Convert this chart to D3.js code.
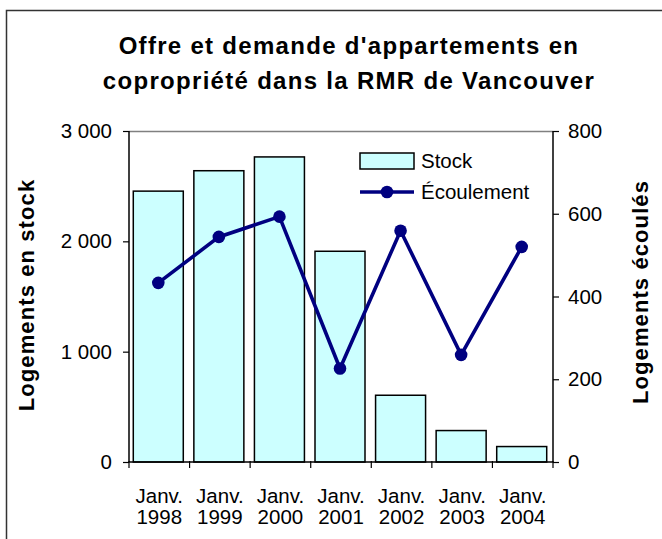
<!DOCTYPE html>
<html><head><meta charset="utf-8">
<script src="https://cdn.jsdelivr.net/npm/d3@7"></script>
<style>
html,body{margin:0;padding:0;background:#fff;}
svg{display:block;font-family:"Liberation Sans",Arial,sans-serif;}
</style></head>
<body><svg id="c" width="662" height="539"></svg>
<script>
const months = ["Janv.","Janv.","Janv.","Janv.","Janv.","Janv.","Janv."];
const years = ["1998","1999","2000","2001","2002","2003","2004"];
const stock = [2455, 2640, 2765, 1910, 605, 285, 140];
const ecoulement = [433, 544, 593, 226, 559, 259, 520];
const leftTicks = [0, 1000, 2000, 3000];
const rightTicks = [0, 200, 400, 600, 800];
const titleLines = ["Offre et demande d'appartements en", "copropriété dans la RMR de Vancouver"];
const leftTitle = "Logements en stock";
const rightTitle = "Logements écoulés";
const legendLabels = ["Stock", "Écoulement"];

const svg = d3.select("#c");
const L = 129, R = 553, T = 131, B = 462;
const loc = d3.formatLocale({decimal:",", thousands:"\u00a0", grouping:[3], currency:["","€"]});
const fmt = loc.format(",d");

const x = d3.scaleBand().domain(years).range([L, R]).paddingInner(0).paddingOuter(0);
const yL = d3.scaleLinear().domain([0, 3000]).range([B, T]);
const yR = d3.scaleLinear().domain([0, 800]).range([B, T]);

// outer frame
svg.append("rect").attr("x",6.5).attr("y",10.5).attr("width",700).attr("height",600)
  .attr("fill","none").attr("stroke","#333").attr("stroke-width",1.5);

// title
svg.append("g").selectAll("text").data(titleLines).join("text")
  .attr("x", 349).attr("y", (d,i)=> 54 + i*35)
  .attr("text-anchor","middle").attr("font-weight","bold").attr("font-size",24)
  .attr("letter-spacing", 1.3).text(d=>d);

// top border of plot
svg.append("line").attr("x1",L).attr("x2",R).attr("y1",T+0.5).attr("y2",T+0.5)
  .attr("stroke","#808080").attr("stroke-width",1.5);

// bars
const bw = 50;
svg.append("g").selectAll("rect").data(stock).join("rect")
  .attr("x",(d,i)=> x(years[i]) + x.bandwidth()/2 - bw/2 - 1)
  .attr("y", d=> yL(d)).attr("width", bw).attr("height", d=> B - yL(d))
  .attr("fill","#CCFFFF").attr("stroke","#000").attr("stroke-width",1.5);

// left axis
const gL = svg.append("g").attr("transform",`translate(${L},0)`)
  .call(d3.axisLeft(yL).tickValues(leftTicks).tickFormat(fmt).tickSize(6).tickPadding(11));
// right axis
const gR = svg.append("g").attr("transform",`translate(${R},0)`)
  .call(d3.axisRight(yR).tickValues(rightTicks).tickSize(6).tickPadding(9));
// bottom axis
const gB = svg.append("g").attr("transform",`translate(0,${B})`)
  .call(d3.axisBottom(x).tickValues([]).tickSizeOuter(0));
[gL,gR,gB].forEach(g=>{
  g.select(".domain").attr("stroke","#000").attr("stroke-width",1.5);
  g.selectAll(".tick line").attr("stroke","#000").attr("stroke-width",1.2);
  g.selectAll("text").attr("font-size",20.5).attr("fill","#000").attr("font-family","Liberation Sans, Arial, sans-serif");
});
gL.select(".domain").attr("d",`M0,${T}V${B}`);
gR.select(".domain").attr("d",`M0,${T}V${B}`);
gB.select(".domain").attr("d",`M${L},0H${R}`);
// category boundary ticks
const bounds = years.map(y=>x(y)).concat([R]);
svg.append("g").selectAll("line").data(bounds).join("line")
  .attr("x1",d=>d).attr("x2",d=>d).attr("y1",B-1).attr("y2",B+6)
  .attr("stroke","#000").attr("stroke-width",1.2);
// category labels
const cl = svg.append("g").selectAll("text").data(years).join("text")
  .attr("x", d=> x(d)+x.bandwidth()/2).attr("text-anchor","middle")
  .attr("font-size",20.5).attr("fill","#000");
cl.append("tspan").attr("x", d=> x(d)+x.bandwidth()/2).attr("y",503).text((d,i)=>months[i]);
cl.append("tspan").attr("x", d=> x(d)+x.bandwidth()/2).attr("y",524).text(d=>d);

// line
const line = d3.line().x((d,i)=> x(years[i]) + x.bandwidth()/2 - 1).y(d=> yR(d));
svg.append("path").datum(ecoulement).attr("d",line).attr("fill","none")
  .attr("stroke","#000080").attr("stroke-width",3.6).attr("stroke-linejoin","miter");
svg.append("g").selectAll("circle").data(ecoulement).join("circle")
  .attr("cx",(d,i)=> x(years[i]) + x.bandwidth()/2 - 1).attr("cy", d=> yR(d)).attr("r",6.3)
  .attr("fill","#000080");

// axis titles
svg.append("text").attr("transform","rotate(-90)").attr("x",-295).attr("y",34)
  .attr("text-anchor","middle").attr("font-weight","bold").attr("font-size",22)
  .attr("letter-spacing",1.1).text(leftTitle);
svg.append("text").attr("transform","rotate(-90)").attr("x",-292).attr("y",648)
  .attr("text-anchor","middle").attr("font-weight","bold").attr("font-size",22)
  .attr("letter-spacing",1.1).text(rightTitle);

// legend
const lg = svg.append("g");
lg.append("rect").attr("x",360).attr("y",153).attr("width",54).attr("height",16)
  .attr("fill","#CCFFFF").attr("stroke","#000").attr("stroke-width",1.5);
lg.append("line").attr("x1",360).attr("x2",414).attr("y1",192).attr("y2",192)
  .attr("stroke","#000080").attr("stroke-width",3.6);
lg.append("circle").attr("cx",387).attr("cy",192).attr("r",6.3).attr("fill","#000080");
lg.selectAll("text.l").data(legendLabels).join("text").attr("class","l")
  .attr("x",421).attr("y",(d,i)=> 168 + i*31).attr("font-size",20.5).attr("fill","#000").text(d=>d);
</script></body></html>
